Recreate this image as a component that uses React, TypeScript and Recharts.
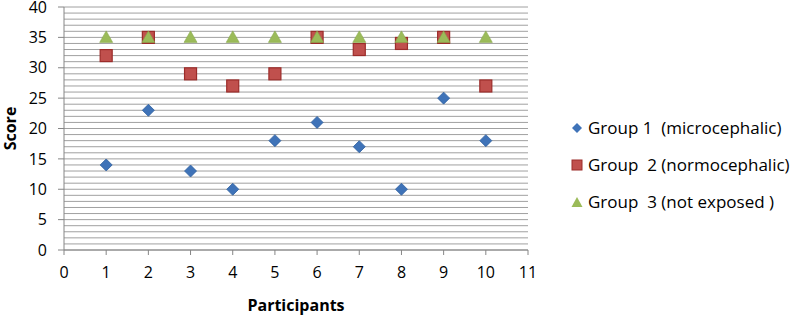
import { ScatterChart, Scatter, XAxis, YAxis, CartesianGrid } from "recharts";

const participants = [1, 2, 3, 4, 5, 6, 7, 8, 9, 10];
const group1 = [14, 23, 13, 10, 18, 21, 17, 10, 25, 18];
const group2 = [32, 35, 29, 27, 29, 35, 33, 34, 35, 27];
const group3 = [35, 35, 35, 35, 35, 35, 35, 35, 35, 35];

const xTicks = [0, 1, 2, 3, 4, 5, 6, 7, 8, 9, 10, 11];
const yTicks = [0, 5, 10, 15, 20, 25, 30, 35, 40];
const gridLines = Array.from({ length: 41 }, (_, i) => i);

const seriesNames = [
  "Group 1  (microcephalic)",
  "Group  2 (normocephalic)",
  "Group  3 (not exposed )",
];

const toPoints = (vals: number[]) => participants.map((p, i) => ({ x: p, y: vals[i] }));

const font = "Open Sans, Calibri, sans-serif";

const Diamond = ({ cx, cy }: any) => (
  <path d={`M${cx},${cy - 6}L${cx + 6},${cy}L${cx},${cy + 6}L${cx - 6},${cy}Z`} fill="#3f73b8" stroke="#2f5f9e" strokeWidth={0.8} />
);
const Square = ({ cx, cy }: any) => (
  <rect x={cx - 6} y={cy - 6} width={12} height={12} fill="#c0504d" stroke="#9c2c2a" strokeWidth={1.2} />
);
const Triangle = ({ cx, cy }: any) => (
  <path d={`M${cx},${cy - 6.5}L${cx + 6.5},${cy + 5}L${cx - 6.5},${cy + 5}Z`} fill="#9bbb59" stroke="#86a84a" strokeWidth={0.6} />
);

const icons = [
  <svg width={12} height={12} key="d"><path d="M6,1L11,6L6,11L1,6Z" fill="#3f73b8" /></svg>,
  <svg width={12} height={12} key="s"><rect x={1} y={1} width={10} height={10} fill="#c0504d" stroke="#9c2c2a" /></svg>,
  <svg width={12} height={12} key="t"><path d="M6,1L11.5,11L0.5,11Z" fill="#9bbb59" /></svg>,
];

export default function App() {
  return (
    <div style={{ position: "absolute", left: 0, top: 0, width: 800, height: 316, background: "#fff" }}>
      <ScatterChart width={800} height={316} margin={{ top: 7, right: 272, bottom: 0, left: 0 }}>
        <CartesianGrid horizontalValues={gridLines} vertical={false} stroke="#a0a0a0" strokeWidth={1} />
        <XAxis
          type="number"
          dataKey="x"
          domain={[0, 11]}
          ticks={xTicks}
          interval={0}
          height={66}
          tickSize={5}
          tickMargin={12}
          stroke="#868686"
          tick={{ fill: "#000", fontSize: 16, fontFamily: font }}
          label={{ value: "Participants", position: "insideBottom", offset: 5, fill: "#000", fontSize: 16, fontWeight: "bold", fontFamily: font }}
        />
        <YAxis
          type="number"
          dataKey="y"
          domain={[0, 40]}
          ticks={yTicks}
          interval={0}
          width={64}
          tickSize={6}
          tickMargin={11}
          stroke="#868686"
          tick={{ fill: "#000", fontSize: 16, fontFamily: font }}
          label={{ value: "Score", angle: -90, position: "insideLeft", offset: 10, fill: "#000", fontSize: 16, fontWeight: "bold", fontFamily: font, style: { textAnchor: "middle" } }}
        />
        <Scatter name={seriesNames[0]} data={toPoints(group1)} shape={Diamond} isAnimationActive={false} />
        <Scatter name={seriesNames[1]} data={toPoints(group2)} shape={Square} isAnimationActive={false} />
        <Scatter name={seriesNames[2]} data={toPoints(group3)} shape={Triangle} isAnimationActive={false} />
      </ScatterChart>
      <div style={{ position: "absolute", left: 571, top: 109, fontFamily: font, fontSize: 17, color: "#000" }}>
        {seriesNames.map((n, i) => (
          <div key={n} style={{ display: "flex", alignItems: "center", height: 37, whiteSpace: "pre" }}>
            <span style={{ width: 17, display: "inline-flex" }}>{icons[i]}</span>
            <span>{n}</span>
          </div>
        ))}
      </div>
    </div>
  );
}
